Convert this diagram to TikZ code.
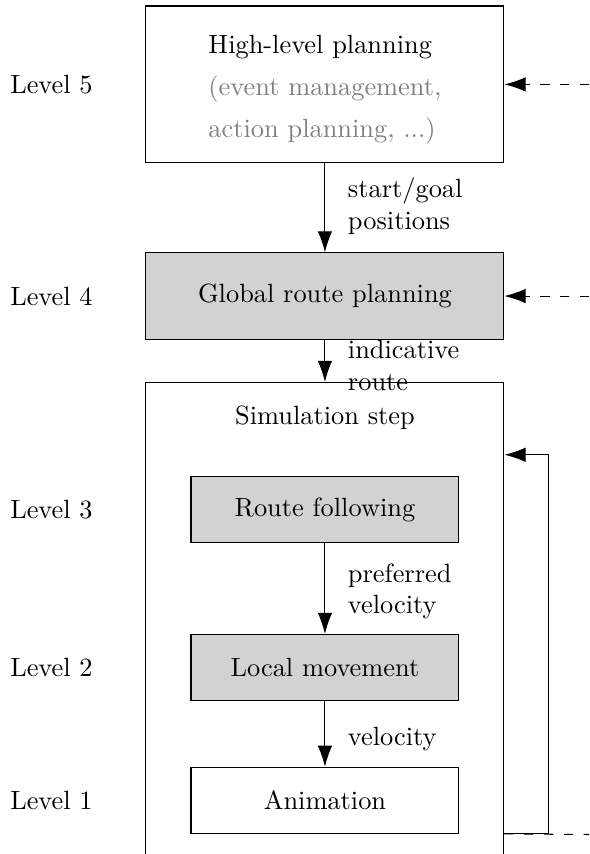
\documentclass[tikz,border=0pt]{standalone}
\usetikzlibrary{arrows.meta}
\begin{document}
\begin{tikzpicture}[
        box/.style={draw,rectangle,minimum width=4.77cm,inner sep=0pt},
        stepbox/.style={draw,rectangle,minimum width=3.57cm,minimum height=0.88cm,inner sep=0pt},
        flow/.style={-{Latex[length=8pt,width=5.5pt]}},
        ext/.style={flow,dash pattern=on 3.5pt off 4pt},
        lbl/.style={anchor=west,align=left,inner sep=0pt}]
        \useasboundingbox (0,0) rectangle (7.85,-11.38);
        \clip (0,0) rectangle (7.85,-11.38);
        %% Levels
        \node[lbl] (l5) at (0.13,-1.125) {Level 5};
        \node[lbl] (l4) at (0.13,-3.945) {Level 4};
        \node[lbl] (l3) at (0.13,-6.79) {Level 3};
        \node[lbl] (l2) at (0.13,-8.895) {Level 2};
        \node[lbl] (l1) at (0.13,-10.665) {Level 1};
        %% Planning boxes
        \node[box,minimum height=2.09cm] (hlp) at (4.33,-1.125) {};
        \node[align=left,inner sep=0pt] (hlptxt) at (4.33,-1.19)
            {High-level planning\\[3.9pt]
             \textcolor{gray}{(event management,}\\[3.9pt]
             \textcolor{gray}{action planning, ...)}};
        \node[box,fill=gray!35,minimum height=1.15cm] (grp) at (4.33,-3.945)
            {Global route planning};
        %% Simulation step
        \node[box,minimum height=7cm,anchor=north] (sim) at (4.33,-5.09) {};
        \node (simlbl) at (4.33,-5.57) {Simulation step};
        \node[stepbox,fill=gray!35] (rf) at (4.33,-6.79) {Route following};
        \node[stepbox,fill=gray!35] (lm) at (4.33,-8.895) {Local movement};
        \node[stepbox] (anim) at (4.33,-10.665) {Animation};
        %% Arrows
        \draw[flow] (hlp) -- (grp);
        \node[lbl] (sg) at (4.63,-2.75) {start/goal\\positions};
        \draw[flow] (grp) -- (sim);
        \node[lbl] (ir) at (4.63,-4.87) {indicative\\route};
        \draw[flow] (rf) -- (lm);
        \node[lbl] (pv) at (4.63,-7.88) {preferred\\velocity};
        \draw[flow] (lm) -- (anim);
        \node[lbl] (v) at (4.63,-9.85) {velocity};
        %% Outside inputs and feedback
        \coordinate (ext5) at (7.85,-1.125);
        \coordinate (ext4) at (7.85,-3.945);
        \coordinate (ext1) at (7.85,-11.12);
        \coordinate (fb) at (7.31,-6.06);
        \draw[ext] (ext5) -- (hlp.east);
        \draw[ext] (ext4) -- (grp.east);
        \draw[flow] (sim.east |- anim.south) -| (fb) -- (sim.east |- fb);
        \draw[dash pattern=on 3.5pt off 4pt] (sim.east |- anim.south) -- (ext1);
    \end{tikzpicture}
\end{document}
